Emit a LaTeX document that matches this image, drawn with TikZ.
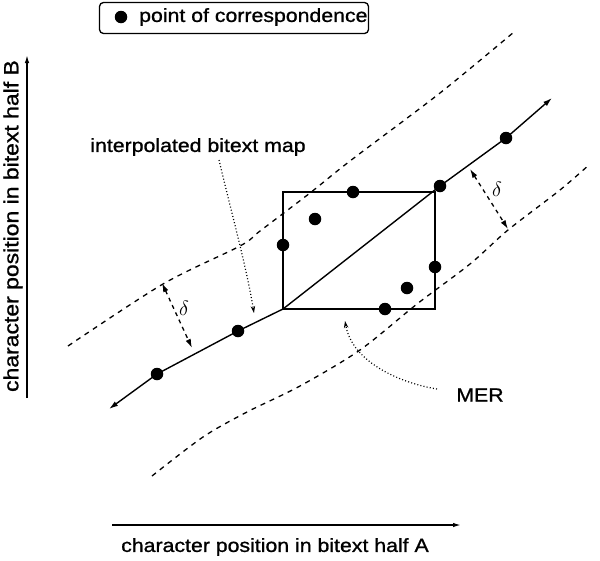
\documentclass[tikz,border=0pt]{standalone}
\usepackage{fontspec}
\setmainfont{Liberation Sans}[FakeStretch=1.12,FakeBold=1]
\usetikzlibrary{arrows.meta}
\begin{document}
\begin{tikzpicture}[x=1pt,y=-1pt,
  dot/.style={circle,fill=black,inner sep=0pt,minimum size=12.5pt},
  solidline/.style={line width=1.4pt},
  boxline/.style={line width=1.8pt},
  dashline/.style={line width=1.3pt,dash pattern=on 5pt off 5pt},
  deltaline/.style={line width=1.3pt,dash pattern=on 4pt off 4pt},
  dotline/.style={line width=1.2pt,dash pattern=on 1pt off 2.2pt},
  bigtip/.style={{Latex[length=9pt,width=5.5pt]}-{Latex[length=9pt,width=5.5pt]}},
  axtip/.style={-{Latex[length=8pt,width=4.5pt]}},
  smalltip/.style={-{Stealth[length=7pt,width=4.5pt]}},
  lab/.style={font=\fontsize{19}{22}\selectfont,inner sep=0pt},
  dlab/.style={font=\fontsize{21}{24}\selectfont,inner sep=0pt}]
\useasboundingbox (0,0) rectangle (600,560);

% legend
\node[draw,rounded corners=4pt,line width=1.3pt,minimum width=269pt,minimum height=31pt,inner sep=0pt] (legend) at (234,18) {};
\node[dot] (ldot) at (121,17) {};
\node[lab,anchor=west] (ltext) at (139,17) {point of correspondence};

% axes
\coordinate (yb) at (27,398);
\coordinate (yt) at (27,55);
\draw[line width=1.4pt,axtip] (yb) -- (yt);
\node[lab,rotate=90,font=\fontsize{20.5}{22}\selectfont] (ylab) at (13,226) {character position in bitext half B};
\coordinate (xl) at (112,525);
\coordinate (xr) at (461,525);
\draw[line width=1.4pt,axtip] (xl) -- (xr);
\node[lab] (xlab) at (275,547) {character position in bitext half A};

% dashed envelope
\draw[dashline] plot[smooth] coordinates {(68,346) (163,284) (240,246) (260,231) (310,193) (350,161) (440,93) (514,32)};
\draw[dashline] plot[smooth] coordinates {(152,476) (203,437) (247,412) (300,386) (360,350) (417,304) (470,264) (508,230) (560,190) (590,164)};

% points
\node[dot] (p1) at (157,374) {};
\node[dot] (p2) at (238,331) {};
\node[dot] (p3) at (283,245) {};
\node[dot] (p4) at (315,219) {};
\node[dot] (p5) at (353,192) {};
\node[dot] (p6) at (440,186) {};
\node[dot] (p7) at (506,138) {};
\node[dot] (p8) at (435,267) {};
\node[dot] (p9) at (407,288) {};
\node[dot] (p10) at (385,309) {};

% MER and map
\coordinate (a0) at (109,409);
\coordinate (a1) at (552,98);
\coordinate (rbl) at (283,309);
\coordinate (rtr) at (435,192);
\draw[boxline] (rbl) rectangle (rtr);
\draw[solidline,bigtip] (a0) -- (p1.center) -- (p2.center) -- (rbl) -- (p6.center) -- (p7.center) -- (a1);

% delta arrows
\coordinate (d1a) at (162,283);
\coordinate (d1b) at (192,348);
\draw[deltaline,bigtip] (d1a) -- (d1b);
\node[dlab] (delta1) at (184,308) {$\delta$};
\coordinate (d2a) at (470,169);
\coordinate (d2b) at (508,229);
\draw[deltaline,bigtip] (d2a) -- (d2b);
\node[dlab] (delta2) at (497,189) {$\delta$};

% annotations
\node[lab] (ibm) at (198,147) {interpolated bitext map};
\coordinate (ibmstart) at (219,160);
\coordinate (ibmtip) at (254,313);
\draw[dotline,smalltip] (ibmstart) .. controls (232,215) and (246,265) .. (ibmtip);
\node[lab] (mer) at (480,395) {MER};
\coordinate (merstart) at (437,389);
\coordinate (mertip) at (345,321);
\draw[dotline,smalltip] (merstart) .. controls (400,383) and (352,362) .. (mertip);
\end{tikzpicture}
\end{document}
